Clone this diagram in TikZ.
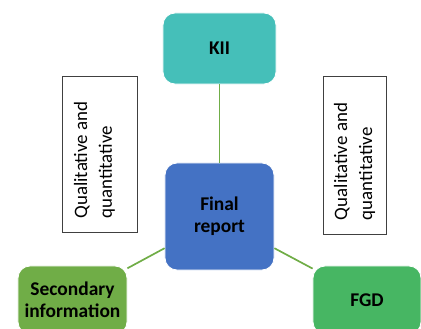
\documentclass[tikz,border=0pt]{standalone}
\usepackage{fontspec}
\setmainfont{Carlito}
\begin{document}
\definecolor{kiiteal}{HTML}{45BFB9}
\definecolor{reportblue}{HTML}{4472C4}
\definecolor{secgreen}{HTML}{70AD47}
\definecolor{fgdgreen}{HTML}{47B663}
\definecolor{linkgreen}{HTML}{70AD47}
\begin{tikzpicture}[x=1bp,y=1bp,
  card/.style={rectangle, rounded corners=12bp, draw=white, line width=0.8bp,
    align=center, inner sep=0pt, text=black,
    font=\fontsize{19.5}{22}\selectfont\bfseries},
  notebox/.style={rectangle, draw=black!75, line width=0.9bp, fill=white,
    inner sep=0pt},
  notetext/.style={align=left, inner sep=0pt, rotate=90,
    font=\fontsize{19}{25}\selectfont},
  link/.style={draw=linkgreen, line width=1.7bp}]
\useasboundingbox (0,0) rectangle (421,329);
\begin{scope}
\clip (0,0) rectangle (421,329);
% central report and its three sources
\node[card, fill=kiiteal, minimum width=113bp, minimum height=71bp] (kii) at (219.5,280.5) {KII};
\node[card, fill=reportblue, minimum width=109bp, minimum height=107bp] (final) at (219.5,112.5) {Final\\report};
\node[card, fill=secgreen, minimum width=109bp, minimum height=68bp] (sec) at (72.5,29) {Secondary\\information};
\node[card, fill=fgdgreen, minimum width=108bp, minimum height=68bp] (fgd) at (367,29) {FGD};
% connectors
\draw[link] (kii.south) -- (final.north);
\draw[link] (final.210) -- (sec.30);
\draw[link] (final.-30) -- (fgd.150);
% side notes, set bottom to top
\node[notebox, minimum width=75bp, minimum height=156bp] (noteL) at (99.5,175) {};
\node[notetext] (noteLtext) at ([shift={(-5,-6)}]noteL.center) {Qualitative and\\quantitative};
\node[notebox, minimum width=63bp, minimum height=158bp] (noteR) at (354.5,174) {};
\node[notetext] (noteRtext) at ([shift={(0,-6.5)}]noteR.center) {Qualitative and\\quantitative};
\end{scope}
\end{tikzpicture}
\end{document}
